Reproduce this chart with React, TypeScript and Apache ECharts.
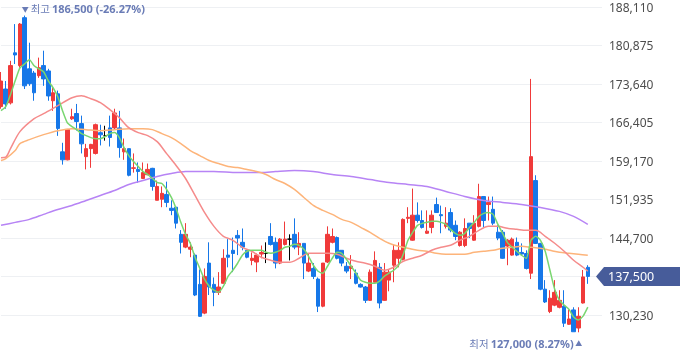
import React, { useEffect, useRef } from 'react';
import * as echarts from 'echarts';

// [open, close, low, high]
const candles: number[][] = [
  [169400, 174200, 169000, 175900], [172700, 169900, 169000, 174200], [170100, 177100, 169800, 178000],
  [179500, 179100, 177400, 184900], [177100, 184900, 176700, 185100], [186100, 173300, 172700, 186500],
  [176500, 173700, 173300, 181400], [175700, 172000, 170500, 176100], [175200, 176700, 174800, 178600],
  [177100, 174600, 173300, 179900], [176100, 171400, 170500, 176500], [170500, 172000, 168600, 173300],
  [171800, 165300, 163900, 172400], [160900, 159400, 158500, 162600], [159400, 165100, 159300, 165200],
  [167100, 167500, 166900, 169000], [168100, 166600, 164900, 169900], [166200, 162400, 160600, 167700],
  [160000, 161500, 157600, 162400], [161500, 162300, 157900, 162400], [160600, 166000, 160400, 166200],
  [164500, 164100, 162100, 166000], [163900, 163900, 163000, 165800], [165400, 163600, 161900, 167700],
  [165400, 168200, 165100, 169000], [165400, 161700, 159800, 168600], [160900, 161500, 159400, 163400],
  [161500, 156500, 156300, 161500], [157800, 157900, 157000, 160600], [157600, 157200, 155100, 158900],
  [155900, 157000, 155900, 158900], [156600, 157600, 156500, 158700], [157800, 154400, 153600, 157900],
  [151800, 154400, 151800, 155500], [152000, 153100, 150500, 154400], [152900, 151400, 150500, 155300],
  [150300, 149900, 149000, 151800], [150500, 147500, 146500, 150500], [145400, 143900, 141800, 146200],
  [143000, 145400, 142800, 147500], [142600, 143000, 141100, 143900], [141500, 134000, 133800, 141800],
  [136000, 130000, 129900, 138800], [130600, 137500, 130400, 139000], [140000, 135500, 134000, 143900],
  [136000, 134500, 131900, 137300], [134500, 135500, 134000, 138300], [136200, 140900, 136200, 142600],
  [141500, 141100, 139200, 144500], [142400, 141800, 138300, 144800], [145200, 144700, 141500, 146200],
  [143900, 143000, 142400, 146500], [142400, 141100, 140900, 142400], [140500, 140900, 139600, 142000],
  [140200, 141500, 138300, 141800], [141700, 142000, 140900, 143300], [141800, 141800, 140000, 143900],
  [145000, 143500, 143300, 147500], [143900, 140000, 139000, 144800], [140000, 144500, 139800, 144700],
  [143500, 144500, 143300, 147800], [144500, 144500, 140500, 145400], [145400, 143000, 142600, 148400],
  [143000, 143700, 141500, 145800], [143700, 140000, 137000, 143700], [138500, 140000, 138300, 141800],
  [139000, 137500, 137000, 140000], [137000, 131900, 130800, 137300], [131900, 140000, 131700, 140000],
  [140200, 145400, 140000, 146900], [143900, 145000, 143700, 146500], [144800, 140900, 140700, 145000],
  [142400, 140000, 139400, 142400], [139400, 138500, 138100, 140200], [139000, 139400, 137000, 141500],
  [138100, 136200, 136000, 138800], [136000, 135500, 135400, 136200], [135500, 133000, 132500, 135700],
  [133000, 138300, 132900, 138800], [136400, 140500, 136400, 142200], [139200, 132500, 131500, 140000],
  [133000, 138300, 132900, 140000], [136800, 138300, 134700, 138800], [139600, 142400, 136400, 143500],
  [140900, 142400, 139200, 143900], [140700, 148200, 140500, 148400], [148400, 148600, 147500, 150500],
  [144300, 149000, 144200, 154000], [149000, 148000, 147600, 151400], [148000, 146700, 146500, 149900],
  [145600, 146000, 145500, 149900], [146700, 149000, 145600, 149900], [151000, 149500, 149500, 152300],
  [149100, 148900, 145600, 150800], [146900, 147500, 146500, 150500], [149500, 146200, 145800, 150300],
  [147100, 145000, 144300, 148000], [143300, 145800, 143100, 146000], [143300, 146500, 143000, 148400],
  [147500, 146500, 144700, 147500], [144300, 147500, 144200, 149000], [146900, 152500, 146700, 154900],
  [152500, 148000, 146700, 152500], [151000, 151400, 148000, 152500], [150100, 147500, 147100, 152500],
  [145800, 144700, 144300, 147100], [145800, 140900, 140800, 146200], [143200, 144300, 139600, 144500],
  [141500, 144500, 141400, 144800], [143900, 141500, 141300, 144800], [142000, 141700, 141500, 143700],
  [141800, 139000, 138800, 142400], [138100, 160000, 137000, 174600], [155500, 143700, 143600, 156500],
  [143700, 135100, 134900, 143800], [135100, 132700, 132500, 136800], [130900, 133400, 130600, 134900],
  [132100, 134500, 131900, 136800], [131700, 133000, 131500, 134900], [131900, 128700, 128000, 134900],
  [128500, 129500, 128400, 131300], [131200, 127100, 127100, 131700], [127800, 130000, 127000, 131700],
  [132500, 137400, 132400, 138700], [139200, 137500, 136100, 139600],
];

const ma5: number[] = [
  168630, 169380, 171630, 174250, 176680, 177430, 178180, 177060, 176500, 175930,
  174250, 172940, 171250, 168630, 166380, 165630, 165070, 164320, 163950, 163570,
  163380, 163380, 163760, 164320, 164510, 163570, 161700, 160200, 159080, 158140,
  157200, 156640, 155890, 155140, 154950, 153830, 152330, 150270, 147650, 145400,
  143720, 141090, 139030, 136970, 135660, 134910, 134540, 135660, 137530, 138660,
  139970, 141470, 142220, 142400, 142400, 142400, 142030, 141840, 142030, 142400,
  142970, 143150, 143530, 143340, 142590, 141280, 139590, 138470, 138100, 139410,
  140910, 142030, 141840, 140720, 139410, 138100, 136780, 136410, 136220, 136220,
  136600, 137530, 138100, 138660, 139590, 141650, 144280, 145780, 147090, 147460,
  147650, 147840, 147840, 147650, 147270, 146340, 145590, 145210, 145590, 146710,
  147650, 148770, 149340, 149520, 149150, 147270, 145590, 143900, 142970, 142220,
  141470, 140910, 144280, 145030, 144280, 142220, 138660, 135100, 133040, 132100,
  131350, 129850, 129290, 130040, 131730,
];

// [category index, value]
const ma20: number[][] = [
  [0, 159800], [1, 159900], [2, 161500], [4, 164700], [7, 167130], [9, 168070], [12, 169570], [15, 171060],
  [17, 171440], [19, 170880], [21, 170130], [23, 168820], [25, 167320], [27, 165440], [29, 164510],
  [31, 163950], [33, 162820], [35, 160570], [37, 158330], [39, 155890], [41, 152710], [43, 149520],
  [45, 146900], [47, 145030], [49, 144280], [51, 142970], [53, 142220], [55, 141090], [57, 140530],
  [59, 140160], [61, 140160], [63, 140910], [65, 141840], [67, 141840], [69, 141840], [71, 141650],
  [73, 140910], [75, 140340], [77, 139970], [79, 139410], [81, 138660], [83, 139220], [85, 140340],
  [87, 140910], [89, 141470], [91, 142400], [93, 142970], [95, 143340], [97, 144280], [99, 145030],
  [101, 146150], [103, 146900], [105, 146900], [107, 146530], [109, 146340], [111, 146150],
  [113, 146150], [115, 145030], [117, 143720], [119, 142220], [121, 140530], [123, 139220], [124, 138470],
];

const ma60: number[][] = [
  [0, 159260], [1, 159640], [3, 161140], [4, 162450], [6, 163200], [9, 164130], [12, 164880],
  [15, 165260], [18, 165070], [21, 164880], [24, 165070], [27, 165260], [30, 165260], [32, 165070],
  [34, 164320], [36, 163570], [38, 162450], [40, 161140], [42, 160200], [44, 159260], [46, 158700],
  [48, 158140], [50, 157950], [52, 157580], [54, 157200], [56, 156640], [58, 155700], [60, 154950],
  [62, 153830], [64, 152330], [66, 150830], [68, 149900], [70, 149150], [72, 148210], [74, 147650],
  [76, 146710], [78, 145780], [80, 144650], [82, 143720], [84, 143150], [86, 142780], [88, 142400],
  [90, 142220], [92, 141840], [94, 141650], [96, 141650], [98, 141650], [100, 142030], [102, 142220],
  [104, 142400], [106, 142780], [108, 142970], [110, 143150], [112, 142970], [114, 142780],
  [116, 142400], [118, 142030], [120, 141840], [122, 141650], [124, 141470],
];

const ma120: number[][] = [
  [0, 147090], [3, 147650], [6, 148210], [9, 149150], [12, 150080], [15, 150830], [18, 151770],
  [21, 152710], [24, 153640], [27, 154770], [30, 155520], [33, 156270], [36, 156830], [39, 157200],
  [42, 157200], [45, 157200], [50, 157010], [55, 157010], [58, 157200], [62, 157390], [66, 157200],
  [70, 156640], [74, 156270], [78, 155700], [82, 155140], [86, 154770], [90, 154390], [94, 153460],
  [98, 152520], [102, 151770], [106, 151400], [110, 151020], [114, 150460], [118, 149710],
  [121, 148770], [124, 147270],
];

const categories: string[] = Array.from({ length: 128 }, (_, i) => String(i + 1));

const UP = '#f03a3a';
const DOWN = '#1677e8';
const NOTE = '#6a7cb6';
const FONT = "'Noto Sans', 'Noto Sans CJK KR', sans-serif";
const KFONT = "'Noto Sans CJK KR', sans-serif";

export default function App() {
  const ref = useRef<HTMLDivElement>(null);
  useEffect(() => {
    const chart = echarts.init(ref.current!, null, { renderer: 'svg' });
    chart.setOption({
      animation: false,
      textStyle: { fontFamily: FONT },
      grid: { left: 1, right: 78, top: 6, bottom: 4.4 },
      xAxis: {
        type: 'category',
        data: categories,
        boundaryGap: false,
        show: false,
      },
      yAxis: {
        type: 'value',
        position: 'right',
        min: 122995,
        max: 188110,
        interval: 7235,
        scale: true,
        axisLine: { show: false },
        axisTick: { show: false },
        splitLine: { show: true, showMinLine: false, lineStyle: { color: '#eef0f3', width: 1 } },
        axisLabel: {
          showMinLabel: false,
          margin: 7,
          color: '#4d4d4d',
          fontSize: 12,
          lineHeight: 12,
          padding: [2, 0, 0, 0],
          fontFamily: FONT,
          formatter: (v: number) => (v === 137465 || v === 122995 ? '' : v.toLocaleString('en-US')),
        },
      },
      series: [
        {
          type: 'candlestick',
          data: candles,
          barWidth: 4,
          itemStyle: {
            color: UP,
            color0: DOWN,
            borderColor: UP,
            borderColor0: DOWN,
            borderColorDoji: '#000',
            borderWidth: 1,
          },
        },
        {
          type: 'line', data: ma120, showSymbol: false, smooth: 0.3, connectNulls: true,
          lineStyle: { color: '#b784f5', width: 1.5 },
        },
        {
          type: 'line', data: ma60, showSymbol: false, smooth: 0.3, connectNulls: true,
          lineStyle: { color: '#fdb47a', width: 1.5 },
        },
        {
          type: 'line', data: ma20, showSymbol: false, smooth: 0.3, connectNulls: true,
          lineStyle: { color: '#f58b8b', width: 1.5 },
        },
        {
          type: 'line', data: ma5, showSymbol: false, smooth: 0.2,
          lineStyle: { color: '#79d670', width: 1.5 },
        },
      ],
    });

    // annotations placed from data via the chart's scales
    let maxIdx = 0, minIdx = 0;
    candles.forEach((c, i) => {
      if (c[3] > candles[maxIdx][3]) maxIdx = i;
      if (c[2] < candles[minIdx][2]) minIdx = i;
    });
    const last = candles[candles.length - 1][1];
    const hi = candles[maxIdx][3];
    const lo = candles[minIdx][2];
    const fmt = (v: number) => v.toLocaleString('en-US');
    const hiPct = (((last - hi) / hi) * 100).toFixed(2);
    const loPct = (((last - lo) / lo) * 100).toFixed(2);
    const pHi = chart.convertToPixel({ gridIndex: 0 }, [maxIdx, hi]) as number[];
    const pLo = chart.convertToPixel({ gridIndex: 0 }, [minIdx, lo]) as number[];
    const pLast = chart.convertToPixel({ gridIndex: 0 }, [candles.length - 1, last]) as number[];
    const yL = pLast[1];
    const rich = {
      t: { fontSize: 7, fill: NOTE, fontFamily: KFONT },
      a: { fontSize: 10.5, fill: NOTE, fontFamily: KFONT, padding: [0, 2, 0, 2] },
      b: { fontSize: 11, fill: NOTE, fontWeight: 'bold', fontFamily: FONT },
    };
    chart.setOption({
      graphic: [
        {
          type: 'text',
          x: pHi[0] - 3,
          y: pHi[1] - 7,
          style: {
            text: `{t|▼}{a|최고}{b|${fmt(hi)} (${hiPct}%)}`,
            rich,
            align: 'left',
            verticalAlign: 'middle',
            textAlign: 'left',
            textVerticalAlign: 'middle',
          },
        },
        {
          type: 'text',
          x: pLo[0] + 4,
          y: pLo[1] + 11,
          style: {
            text: `{a|최저}{b|${fmt(lo)} (${loPct}%)}{t| ▲}`,
            rich,
            align: 'right',
            verticalAlign: 'middle',
            textAlign: 'right',
            textVerticalAlign: 'middle',
          },
        },
        {
          type: 'polygon',
          shape: {
            points: [
              [596, yL],
              [604, yL - 9.5],
              [680, yL - 9.5],
              [680, yL + 9.5],
              [604, yL + 9.5],
            ],
          },
          style: { fill: '#475c9a' },
          z: 10,
        },
        {
          type: 'text',
          x: 608,
          y: yL,
          z: 11,
          style: {
            text: fmt(last),
            fill: '#ffffff',
            fontSize: 12.5,
            fontFamily: FONT,
            align: 'left',
            verticalAlign: 'middle',
            textAlign: 'left',
            textVerticalAlign: 'middle',
          },
        },
      ],
    });
    return () => chart.dispose();
  }, []);
  return (
    <div
      ref={ref}
      style={{ position: 'fixed', left: 0, top: 0, width: 680, height: 358 }}
    />
  );
}
